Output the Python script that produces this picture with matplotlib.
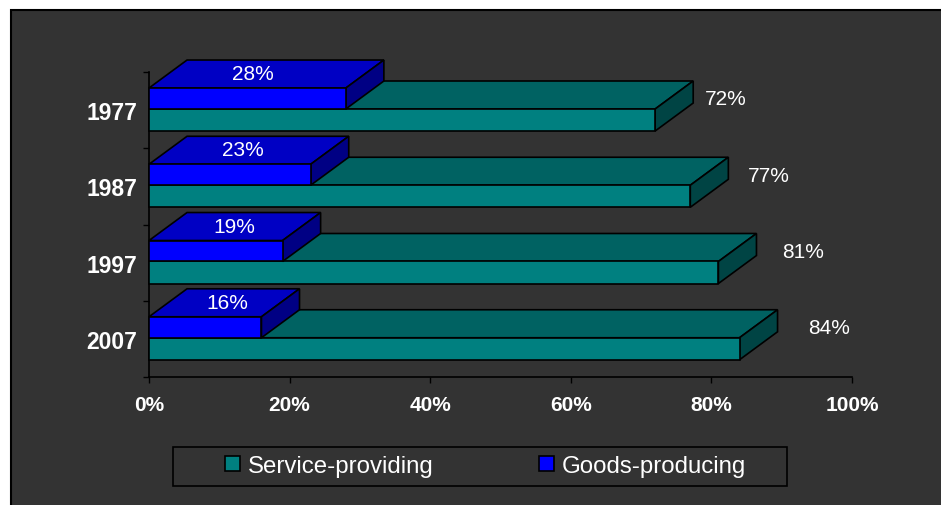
import numpy as np
import matplotlib.pyplot as plt
from matplotlib.patches import Polygon, Rectangle, Patch

plt.rcParams['font.family'] = ['Liberation Sans', 'DejaVu Sans']

# data
years = ['1977', '1987', '1997', '2007']
service = [72, 77, 81, 84]
goods = [28, 23, 19, 16]
xticks = [0, 20, 40, 60, 80, 100]

teal = ['#008080', '#006262', '#004444']   # front, top, side
blue = ['#0000FF', '#0000C4', '#000084']
bg = '#333333'

W, H = 941, 506
fig = plt.figure(figsize=(W / 100, H / 100), dpi=100)
fig.patch.set_facecolor('white')
# dark panel behind everything
fig.add_artist(Rectangle((11 / W, -0.05), 1.1, 1 - 11 / H + 0.05, transform=fig.transFigure,
                         fc=bg, ec='black', lw=1.5, zorder=-5))

ax = fig.add_axes([149 / W, 128 / H, 703 / W, 305 / H])
ax.set_facecolor('none')
ax.set_xlim(0, 100)
ax.set_ylim(0, 4)

dx, dy = 5.41, 0.367   # 3d depth offset


def box(x_right, y_bot, h, cols):
    front = [(0, y_bot), (x_right, y_bot), (x_right, y_bot + h), (0, y_bot + h)]
    top = [(0, y_bot + h), (x_right, y_bot + h), (x_right + dx, y_bot + h + dy), (dx, y_bot + h + dy)]
    side = [(x_right, y_bot), (x_right + dx, y_bot + dy), (x_right + dx, y_bot + h + dy), (x_right, y_bot + h)]
    for pts, c in ((top, cols[1]), (side, cols[2]), (front, cols[0])):
        ax.add_patch(Polygon(pts, closed=True, fc=c, ec='black', lw=1.2,
                             clip_on=False, joinstyle='miter', zorder=3))


for i, yr in enumerate(years):
    p = len(years) - 1 - i
    band_top = p + 1
    # service bar (lower), goods bar sits on top of it
    box(service[i], band_top - 0.774, 0.289, teal)
    box(goods[i], band_top - 0.485, 0.275, blue)
    ax.text(1.224 * service[i] - 6.1, band_top - 0.354, f'{service[i]}%', ha='center', va='center',
            color='white', fontsize=15, clip_on=False, zorder=4)
    ax.text(0.3 * goods[i] + 6.4, band_top - 0.02, f'{goods[i]}%', ha='center', va='center',
            color='white', fontsize=15, clip_on=False, zorder=4)

for s in ['top', 'right']:
    ax.spines[s].set_visible(False)
for s in ['left', 'bottom']:
    ax.spines[s].set_color('black')
    ax.spines[s].set_linewidth(1.2)

ax.set_yticks(range(len(years) + 1))
ax.set_yticklabels([])
ax.set_yticks([len(years) - 1 - i + 0.5 for i in range(len(years))], minor=True)
ax.set_yticklabels(years, minor=True, fontsize=16.5, fontweight='bold', color='white')
ax.tick_params(axis='y', which='major', length=4.3, width=1, color='black', direction='out')
ax.tick_params(axis='y', which='minor', length=0, pad=8.6)

ax.set_xticks(xticks)
ax.set_xticklabels([f'{t}%' for t in xticks], fontsize=15, fontweight='bold', color='white')
ax.tick_params(axis='x', length=4.3, width=1, color='black', direction='out', pad=9)

# legend
handles = [Patch(fc=teal[0], ec='black', lw=1.2, label='Service-providing'),
           Patch(fc=blue[0], ec='black', lw=1.2, label='Goods-producing')]
leg = fig.legend(handles=handles, loc='center', bbox_to_anchor=(485.5 / W, 1 - 467 / H),
                 ncol=2, frameon=False, fontsize=17.3, handlelength=0.63, handleheight=0.6,
                 handletextpad=0.34, columnspacing=4.35, borderpad=0)
for t in leg.get_texts():
    t.set_color('white')
fig.add_artist(Rectangle((173 / W, 1 - 487 / H), 614 / W, 39 / H, transform=fig.transFigure,
                         fc='none', ec='black', lw=1.2, zorder=2))

fig.savefig('out.png', dpi=100, facecolor=fig.get_facecolor())
